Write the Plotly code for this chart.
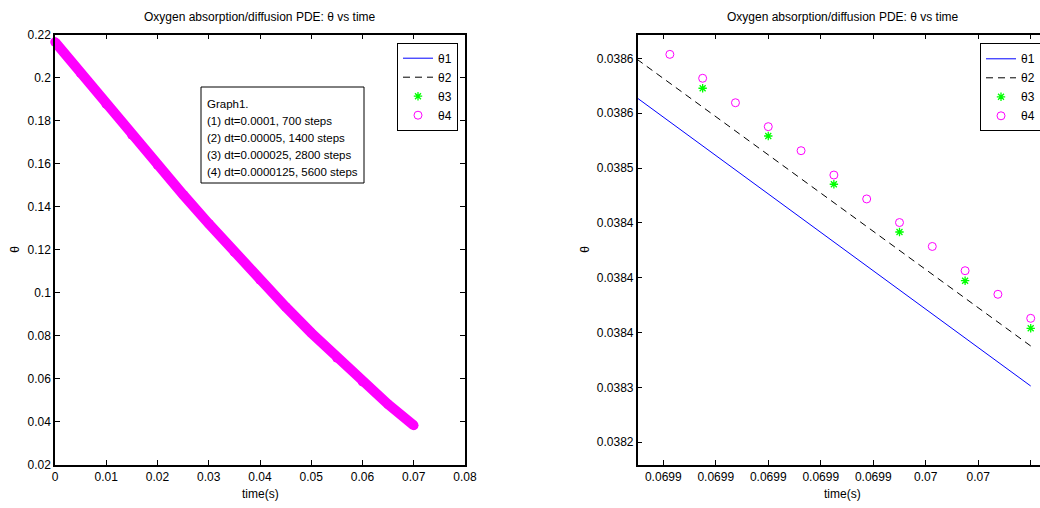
import plotly.graph_objects as go

# ---- full run, sampled every 0.005 s (all four step sizes coincide at this scale)
t_full = [0.000, 0.005, 0.010, 0.015, 0.020, 0.025, 0.030, 0.035,
          0.040, 0.045, 0.050, 0.055, 0.060, 0.065, 0.070]
theta_full = [0.2165, 0.2020, 0.1876, 0.1734, 0.1594, 0.1456, 0.1321, 0.1189,
              0.1060, 0.0935, 0.0814, 0.0698, 0.0587, 0.0482, 0.0384]

# ---- zoom on the last time steps
t1_zoom = [0.06980, 0.06990, 0.07000]
theta1_zoom = [0.0386515, 0.0384764, 0.0383013]

t2_zoom = [0.06985, 0.06990, 0.06995, 0.07000]
theta2_zoom = [0.0385991, 0.0385120, 0.0384250, 0.0383378]

t3_zoom = [0.069875, 0.069900, 0.069925, 0.069950, 0.069975, 0.070000]
theta3_zoom = [0.0385727, 0.0385292, 0.0384852, 0.0384417, 0.0383973, 0.0383539]

t4_zoom = [0.0698625, 0.0698750, 0.0698875, 0.0699000, 0.0699125, 0.0699250,
           0.0699375, 0.0699500, 0.0699625, 0.0699750, 0.0699875, 0.0700000]
theta4_zoom = [0.0386036, 0.0385818, 0.0385595, 0.0385377, 0.0385158, 0.0384936,
               0.0384718, 0.0384503, 0.0384285, 0.0384064, 0.0383849, 0.0383630]

series_names = ["θ1", "θ2", "θ3", "θ4"]

# tick labels
left_xticks = [0, 0.01, 0.02, 0.03, 0.04, 0.05, 0.06, 0.07, 0.08]
left_xlabels = ["0", "0.01", "0.02", "0.03", "0.04", "0.05", "0.06", "0.07", "0.08"]
left_yticks = [0.02, 0.04, 0.06, 0.08, 0.10, 0.12, 0.14, 0.16, 0.18, 0.20, 0.22]
left_ylabels = ["0.02", "0.04", "0.06", "0.08", "0.1", "0.12", "0.14", "0.16", "0.18", "0.2", "0.22"]
right_xticks = [0.06986, 0.06988, 0.06990, 0.06992, 0.06994, 0.06996, 0.06998, 0.07000]
right_xlabels = ["0.0699", "0.0699", "0.0699", "0.0699", "0.0699", "0.07", "0.07", "0.07"]
right_yticks = [0.03860, 0.03855, 0.03850, 0.03845, 0.03840, 0.03835, 0.03830, 0.03825]
right_ylabels = ["0.0386", "0.0386", "0.0385", "0.0384", "0.0384", "0.0384", "0.0383", "0.0382"]

title_text = "Oxygen absorption/diffusion PDE: θ vs time"
note_lines = ["Graph1.",
              "(1) dt=0.0001, 700 steps",
              "(2) dt=0.00005, 1400 steps",
              "(3) dt=0.000025, 2800 steps",
              "(4) dt=0.0000125, 5600 steps"]

FONT = "Liberation Sans, Arial, sans-serif"
FS = 12
W, H = 1040, 508
BLUE, MAGENTA, GREEN = "#0000ff", "#ff00ff", "#00ff00"


def px_x(p):
    return p / W


def px_y(p):
    return (H - p) / H


fig = go.Figure()

styles = [
    dict(mode="lines", line=dict(color=BLUE, width=1)),
    dict(mode="lines", line=dict(color="black", width=1, dash="7px,5px")),
    dict(mode="markers", marker=dict(symbol="asterisk-open", size=7, color=GREEN,
                                     line=dict(color=GREEN, width=1.3))),
    dict(mode="markers", marker=dict(symbol="circle-open", size=8, color=MAGENTA,
                                     line=dict(color=MAGENTA, width=1))),
]

# left panel: whole run
for name, st in zip(series_names, styles):
    fig.add_trace(go.Scatter(x=t_full, y=theta_full, name=name, xaxis="x", yaxis="y",
                             legend="legend", **st))
# dense θ4 circles merge into a solid band
fig.add_trace(go.Scatter(x=t_full, y=theta_full, mode="lines+markers", showlegend=False,
                         xaxis="x", yaxis="y", cliponaxis=False,
                         line=dict(color=MAGENTA, width=10),
                         marker=dict(color=MAGENTA, size=9.5)))

# right panel: zoom on the end of the run
zoom_data = [(t1_zoom, theta1_zoom), (t2_zoom, theta2_zoom),
             (t3_zoom, theta3_zoom), (t4_zoom, theta4_zoom)]
for name, st, (tx, ty) in zip(series_names, styles, zoom_data):
    fig.add_trace(go.Scatter(x=tx, y=ty, name=name, xaxis="x2", yaxis="y2",
                             legend="legend2", **st))

y_dom = [px_y(465), px_y(34.5)]
axis_common = dict(showgrid=False, zeroline=False, showline=True, linecolor="black",
                   linewidth=1.5, ticks="inside", ticklen=5, tickwidth=1,
                   tickcolor="black", tickfont=dict(family=FONT, size=FS, color="black"))

fig.update_layout(
    width=W, height=H,
    margin=dict(l=0, r=0, t=0, b=0, autoexpand=False),
    paper_bgcolor="white", plot_bgcolor="white",
    font=dict(family=FONT, size=FS, color="black"),
    xaxis=dict(domain=[px_x(55), px_x(465)], range=[0, 0.08], tickmode="array",
               tickvals=left_xticks, ticktext=left_xlabels, mirror="ticks",
               anchor="y", **axis_common),
    yaxis=dict(domain=y_dom, range=[0.02, 0.22], tickmode="array",
               tickvals=left_yticks, ticktext=left_ylabels, mirror="ticks",
               anchor="x", **axis_common),
    xaxis2=dict(domain=[px_x(637.7), 1.0], range=[0.06985025, 0.07000354],
                tickmode="array", tickvals=right_xticks, ticktext=right_xlabels,
                mirror="ticks", anchor="y2", **axis_common),
    yaxis2=dict(domain=y_dom, range=[0.0382293, 0.0386217], tickmode="array",
                tickvals=right_yticks, ticktext=right_ylabels, mirror=False,
                anchor="x2", **axis_common),
    legend=dict(x=px_x(397), y=px_y(42.7), xanchor="left", yanchor="top",
                bgcolor="white", bordercolor="black", borderwidth=1,
                font=dict(family=FONT, size=FS)),
    legend2=dict(x=px_x(980), y=px_y(43.3), xanchor="left", yanchor="top",
                 bgcolor="white", bordercolor="black", borderwidth=1,
                 font=dict(family=FONT, size=FS)),
    showlegend=True,
)

ann = []
for cx in (260, 842.7):
    ann.append(dict(text=title_text, x=px_x(cx), y=px_y(16.5), xref="paper", yref="paper",
                    xanchor="center", yanchor="middle", showarrow=False,
                    font=dict(family=FONT, size=FS)))
    ann.append(dict(text="time(s)", x=px_x(cx), y=px_y(494), xref="paper", yref="paper",
                    xanchor="center", yanchor="middle", showarrow=False,
                    font=dict(family=FONT, size=FS)))
for lx in (15, 585):
    ann.append(dict(text="θ", x=px_x(lx), y=px_y(249.75), xref="paper", yref="paper",
                    xanchor="center", yanchor="middle", showarrow=False, textangle=-90,
                    font=dict(family=FONT, size=FS)))

# text box with the run descriptions
fig.add_shape(type="rect", xref="paper", yref="paper",
              x0=px_x(201), x1=px_x(364), y0=px_y(183), y1=px_y(87),
              line=dict(color="black", width=1), fillcolor="white", layer="above")
for i, line in enumerate(note_lines):
    ann.append(dict(text=line, x=px_x(205), y=px_y(104 + 17 * i), xref="paper",
                    yref="paper", xanchor="left", yanchor="middle", showarrow=False,
                    font=dict(family=FONT, size=11.5)))
fig.update_layout(annotations=ann)

fig.write_html("out.html")
